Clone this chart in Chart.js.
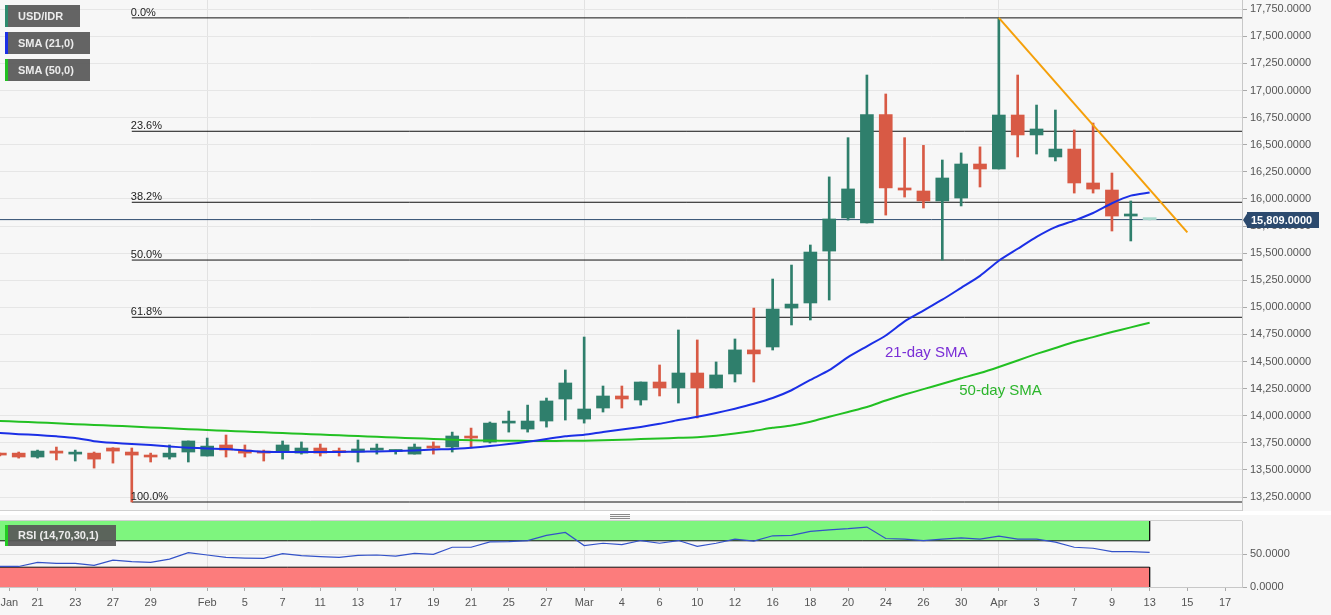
<!DOCTYPE html>
<html><head><meta charset="utf-8">
<script src="https://cdn.jsdelivr.net/npm/chart.js@4.4.1/dist/chart.umd.min.js"></script>
<style>
body{margin:0;background:#fff;font-family:"Liberation Sans",Arial,sans-serif}
#wrap{position:relative;width:1331px;height:615px;overflow:hidden;background:#fff}
#mainBox{position:absolute;left:0;top:0;width:1331px;height:511px}
#rsiBox{position:absolute;left:0;top:515px;width:1331px;height:100px}
.tag{position:absolute;left:5px;height:22px;line-height:22px;background:rgba(88,88,88,0.93);color:#ececec;font-size:11px;font-weight:bold;padding-left:10px;box-sizing:border-box;border-left:3px solid;white-space:nowrap}
.handle{position:absolute;left:610px;width:20px;height:1px;background:#8a8a8a}
</style></head>
<body>
<div id="wrap">
  <div id="mainBox"><canvas id="main" width="1331" height="511"></canvas></div>
  <div id="rsiBox"><canvas id="rsi" width="1331" height="100"></canvas></div>
  <div class="tag" style="top:5px;width:75px;border-left-color:#2e8b6e">USD/IDR</div>
  <div class="tag" style="top:32px;width:85px;border-left-color:#1b2fe6">SMA (21,0)</div>
  <div class="tag" style="top:59px;width:85px;border-left-color:#22c022">SMA (50,0)</div>
  <div class="tag" style="top:525px;width:111px;height:21px;line-height:21px;border-left-color:#22cc22">RSI (14,70,30,1)</div>
  <div class="handle" style="top:514px"></div>
  <div class="handle" style="top:516px"></div>
  <div class="handle" style="top:518px"></div>
</div>
<script>
// ---------- data ----------
const dates = ['Jan 17','Jan 20','Jan 21','Jan 22','Jan 23','Jan 24','Jan 27','Jan 28','Jan 29','Jan 30','Jan 31',
 'Feb 3','Feb 4','Feb 5','Feb 6','Feb 7','Feb 10','Feb 11','Feb 12','Feb 13','Feb 14','Feb 17','Feb 18','Feb 19','Feb 20','Feb 21','Feb 24','Feb 25','Feb 26','Feb 27','Feb 28',
 'Mar 2','Mar 3','Mar 4','Mar 5','Mar 6','Mar 9','Mar 10','Mar 11','Mar 12','Mar 13','Mar 16','Mar 17','Mar 18','Mar 19','Mar 20','Mar 23','Mar 24','Mar 25','Mar 26','Mar 27','Mar 30','Mar 31',
 'Apr 1','Apr 2','Apr 3','Apr 6','Apr 7','Apr 8','Apr 9','Apr 10','Apr 13'];

const open  = [13646,13655,13619,13674,13646,13655,13702,13665,13628,13619,13665,
 13628,13730,13683,13665,13665,13655,13702,13665,13665,13683,13670,13646,13711,13712,13803,13757,13932,13877,13951,14154,
 13969,14071,14182,14145,14311,14256,14394,14256,14385,14607,14634,14993,15040,15519,15824,15778,16778,16101,16073,15981,16008,16322,
 16276,16774,16590,16387,16460,16147,16082,15842,15809];
const high  = [13655,13665,13683,13711,13683,13665,13705,13702,13655,13730,13767,
 13794,13822,13730,13683,13767,13758,13739,13702,13776,13739,13683,13739,13758,13849,13886,13942,14043,14098,14163,14422,
 14726,14274,14274,14311,14468,14791,14699,14496,14708,14993,15261,15390,15575,16203,16565,17143,16968,16565,16494,16359,16424,16480,
 17666,17143,16866,16820,16636,16700,16239,15981,15812];
const low   = [13628,13609,13609,13592,13582,13517,13563,13204,13573,13600,13573,
 13628,13619,13619,13582,13600,13646,13628,13628,13573,13646,13646,13646,13646,13665,13702,13748,13849,13849,13895,13960,
 13932,14034,14071,14098,14182,14117,13979,14256,14311,14311,14606,14837,14883,15067,15805,15778,15851,16017,15916,15436,15935,16110,
 16276,16387,16414,16350,16054,16054,15704,15612,15806];
const close = [13637,13619,13674,13655,13655,13600,13674,13637,13619,13655,13767,
 13720,13683,13655,13655,13730,13702,13655,13660,13693,13693,13674,13711,13702,13813,13794,13932,13942,13951,14136,14302,
 14062,14182,14154,14311,14256,14394,14256,14376,14607,14570,14984,15030,15510,15815,16092,16778,16101,16082,15981,16193,16322,16276,
 16774,16590,16645,16460,16147,16091,15842,15861,15809];

const sma21 = [13841,13830,13822,13810,13795,13765,13750,13740,13730,13716,13705,
 13698,13693,13680,13667,13665,13665,13665,13666,13668,13670,13674,13680,13688,13693,13705,13720,13738,13760,13785,13810,
 13825,13850,13872,13896,13925,13960,13990,14025,14065,14110,14163,14235,14330,14420,14540,14640,14740,14870,14970,15070,15180,15290,
 15430,15540,15650,15740,15800,15870,15960,16030,16060];
const sma50 = [13951,13945,13938,13930,13922,13915,13908,13900,13892,13884,13876,
 13868,13861,13854,13847,13840,13834,13826,13820,13812,13805,13798,13792,13786,13778,13774,13771,13769,13767,13767,13768,
 13770,13774,13778,13785,13790,13796,13802,13815,13835,13860,13888,13910,13945,13990,14035,14080,14140,14195,14245,14295,14345,14394,
 14450,14510,14570,14625,14680,14725,14772,14815,14858];
const rsi = [31.1,31.1,37.2,35.7,35.7,32.7,40.8,38.3,37.2,42.3,52.0,
 48.5,44.9,43.9,43.4,50.5,47.4,45.9,44.9,48.0,48.5,46.9,51.0,49.5,60.2,60.2,68.4,68.9,70.4,78.1,82.7,
 62.8,66.3,64.3,70.4,66.3,70.4,61.7,66.3,72.4,69.4,77.6,78.1,84.2,86.7,88.3,90.8,73.5,72.4,70.4,72.4,74.5,72.4,
 77.0,72.4,72.4,67.9,60.2,58.7,53.6,53.6,52.6];

const tickPos    = [0.5,2,4,6,8,11,13,15,17,19,21,23,25,27,29,31,33,35,37,39,41,43,45,47,49,51,53,55,57,59,61,63,65];
const tickLabels = ['Jan','21','23','27','29','Feb','5','7','11','13','17','19','21','25','27','Mar','4','6','10','12','16','18','20','24','26','30','Apr','3','7','9','13','15','17'];
const monthPos   = [11,31,53];
const yTicks     = [13250,13500,13750,14000,14250,14500,14750,15000,15250,15500,15750,16000,16250,16500,16750,17000,17250,17500,17750];
const rsiTicks   = [0,50];

const fibLevels = [17670,16624,15969,15436,14908,13204];
const fibLabels = ['0.0%','23.6%','38.2%','50.0%','61.8%','100.0%'];
const fibStart  = 7;
const trendPts  = [{x:53,y:17670},{x:63,y:15692}];
const lastPrice = 15809;
const notes = [{text:'21-day SMA', x:46.96, y:14578, color:'#7a2ed6'},
               {text:'50-day SMA', x:50.9,  y:14228, color:'#2cb52c'}];

// ---------- layout constants ----------
const X_MIN = 0.008, X_MAX = 65.9, Y_MIN = 13121, Y_MAX = 17835;
const UP = '#2f7f6c', DOWN = '#d85a45', LAST = '#a9d9cd';
const FONT = '"Liberation Sans", Arial, sans-serif';
const fmt = v => Number(v).toLocaleString('en-US',{minimumFractionDigits:4, maximumFractionDigits:4});
const candleColor = c => { const i = c.dataIndex; if (i === dates.length-1) return LAST; return close[i] >= open[i] ? UP : DOWN; };

const bg = (fill) => ({
  id:'bg',
  beforeDraw(chart){ const {ctx,width,height} = chart; ctx.save(); ctx.fillStyle = fill; ctx.fillRect(0,0,width,height); ctx.restore(); }
});

const mainDecor = {
  id:'mainDecor',
  afterDraw(chart){
    const {ctx, chartArea:a} = chart; const sx = chart.scales.x, sy = chart.scales.y;
    ctx.save();
    ctx.strokeStyle = '#d0d0d0'; ctx.lineWidth = 1;
    ctx.beginPath(); ctx.moveTo(0, a.bottom-0.5); ctx.lineTo(a.right, a.bottom-0.5); ctx.stroke();
    ctx.fillStyle = '#222'; ctx.font = '11px '+FONT; ctx.textAlign = 'left'; ctx.textBaseline = 'alphabetic';
    fibLevels.forEach((lv,i) => { ctx.fillText(fibLabels[i], sx.getPixelForValue(fibStart)-1, sy.getPixelForValue(lv)-2); });
    ctx.font = '15px '+FONT; ctx.textBaseline = 'middle';
    notes.forEach(n => { ctx.fillStyle = n.color; ctx.fillText(n.text, sx.getPixelForValue(n.x), sy.getPixelForValue(n.y)); });
    const py = Math.round(sy.getPixelForValue(lastPrice));
    const x0 = a.right + 1;
    ctx.fillStyle = '#2c4a6e';
    ctx.beginPath(); ctx.moveTo(x0, py); ctx.lineTo(x0+5, py-8); ctx.lineTo(x0+5, py+8); ctx.closePath(); ctx.fill();
    ctx.fillRect(x0+4, py-8, 72, 16);
    ctx.fillStyle = '#fff'; ctx.font = 'bold 11px '+FONT; ctx.textBaseline = 'middle';
    ctx.fillText(fmt(lastPrice), x0+8, py+0.5);
    ctx.restore();
  }
};

const rsiDecor = {
  id:'rsiDecor',
  afterDraw(chart){
    const {ctx, chartArea:a} = chart;
    ctx.save(); ctx.strokeStyle = '#d0d0d0'; ctx.lineWidth = 1;
    ctx.beginPath(); ctx.moveTo(0, a.top-0.5); ctx.lineTo(a.right, a.top-0.5); ctx.stroke();
    ctx.restore();
  }
};

const pts = arr => arr.map((v,i) => ({x:i, y:v}));
const hline = (v, x0, x1) => [{x:x0, y:v},{x:x1, y:v}];
const fitY = s => { s.width = 89; s.paddingTop = 0; s.paddingBottom = 0; };

// ---------- main chart ----------
const mainSets = [
  {type:'bar', label:'wick', data: dates.map((d,i)=>({x:i, y:[low[i], high[i]]})), backgroundColor:candleColor, barThickness:2, grouped:false, order:6},
  {type:'bar', label:'body', data: dates.map((d,i)=>({x:i, y:[open[i], close[i]]})), backgroundColor:candleColor, barThickness:13, minBarLength:2, grouped:false, order:5},
  {type:'line', label:'SMA (21,0)', data: pts(sma21), borderColor:'#1b2fe6', borderWidth:2, pointRadius:0, tension:0.2, order:2},
  {type:'line', label:'SMA (50,0)', data: pts(sma50), borderColor:'#22c022', borderWidth:2, pointRadius:0, tension:0.2, order:3},
  {type:'line', label:'trend', data: trendPts, borderColor:'#f5a00a', borderWidth:2, pointRadius:0, order:1},
  {type:'line', label:'price', data: hline(lastPrice, X_MIN, X_MAX), borderColor:'#2c4a6e', borderWidth:1, pointRadius:0, order:9}
];
fibLevels.forEach((lv,i) => mainSets.push({type:'line', label:fibLabels[i], data: hline(lv, fibStart, X_MAX), borderColor:'#111', borderWidth:1, pointRadius:0, order:10}));

new Chart(document.getElementById('main'), {
  type:'bar',
  data:{datasets: mainSets},
  options:{
    responsive:false, animation:false, devicePixelRatio:1,
    layout:{padding:0},
    plugins:{legend:{display:false}, tooltip:{enabled:false}},
    scales:{
      x:{type:'linear', min:X_MIN, max:X_MAX, offset:false,
         afterBuildTicks: s => { s.ticks = monthPos.map(v=>({value:v})); },
         ticks:{display:false}, grid:{color:'#e2e2e2', drawTicks:false, offset:false}, border:{display:false},
         afterFit: s => { s.height = 0; s.paddingLeft = 0; s.paddingRight = 0; }},
      y:{type:'linear', position:'right', min:Y_MIN, max:Y_MAX,
         afterBuildTicks: s => { s.ticks = yTicks.map(v=>({value:v})); },
         ticks:{color:'#555', font:{size:11, family:FONT}, padding:3, callback: v => fmt(v)},
         grid:{color:'#e6e6e6', tickLength:5, tickColor:'#aaa'},
         border:{color:'#c8c8c8'},
         afterFit: fitY}
    }
  },
  plugins:[bg('#f7f7f7'), mainDecor]
});

// ---------- RSI chart ----------
const lastX = dates.length - 1;
new Chart(document.getElementById('rsi'), {
  type:'line',
  data:{datasets:[
    {label:'ob', data: hline(100, X_MIN, lastX), borderWidth:0, pointRadius:0, fill:{value:70}, backgroundColor:'#7ef57e', order:10},
    {label:'os', data: hline(30, X_MIN, lastX), borderWidth:1, borderColor:'#111', pointRadius:0, fill:{value:0}, backgroundColor:'#fc7c7c', order:9},
    {label:'l70', data: hline(70, X_MIN, lastX), borderWidth:1, borderColor:'#111', pointRadius:0, order:8},
    {label:'e1', data:[{x:lastX,y:100},{x:lastX,y:70}], borderWidth:1, borderColor:'#111', pointRadius:0, order:8},
    {label:'e2', data:[{x:lastX,y:30},{x:lastX,y:0}], borderWidth:1, borderColor:'#111', pointRadius:0, order:8},
    {label:'RSI', data: pts(rsi), borderWidth:1.2, borderColor:'#3352c8', pointRadius:0, order:1}
  ]},
  options:{
    responsive:false, animation:false, devicePixelRatio:1,
    layout:{padding:{top:6, left:0, right:0, bottom:0}},
    plugins:{legend:{display:false}, tooltip:{enabled:false}},
    scales:{
      x:{type:'linear', min:X_MIN, max:X_MAX, offset:false,
         afterBuildTicks: s => { s.ticks = tickPos.map(v=>({value:v})); },
         ticks:{autoSkip:false, maxRotation:0, color:'#555', font:{size:11, family:FONT}, padding:5,
                callback:(v,i) => tickLabels[i]},
         grid:{offset:false, color: c => (c.tick && monthPos.includes(c.tick.value)) ? '#e2e2e2' : 'rgba(0,0,0,0)', tickColor:'#aaa', tickLength:4},
         border:{color:'#c8c8c8'},
         afterFit: s => { s.height = 28; s.paddingLeft = 0; s.paddingRight = 0; }},
      y:{type:'linear', position:'right', min:0, max:100,
         afterBuildTicks: s => { s.ticks = rsiTicks.map(v=>({value:v})); },
         ticks:{color:'#555', font:{size:11, family:FONT}, padding:3, callback: v => fmt(v)},
         grid:{color:'#e2e2e2', tickLength:5, tickColor:'#aaa'},
         border:{color:'#c8c8c8'},
         afterFit: fitY}
    }
  },
  plugins:[bg('#f7f7f7'), rsiDecor]
});
</script>
</body></html>
